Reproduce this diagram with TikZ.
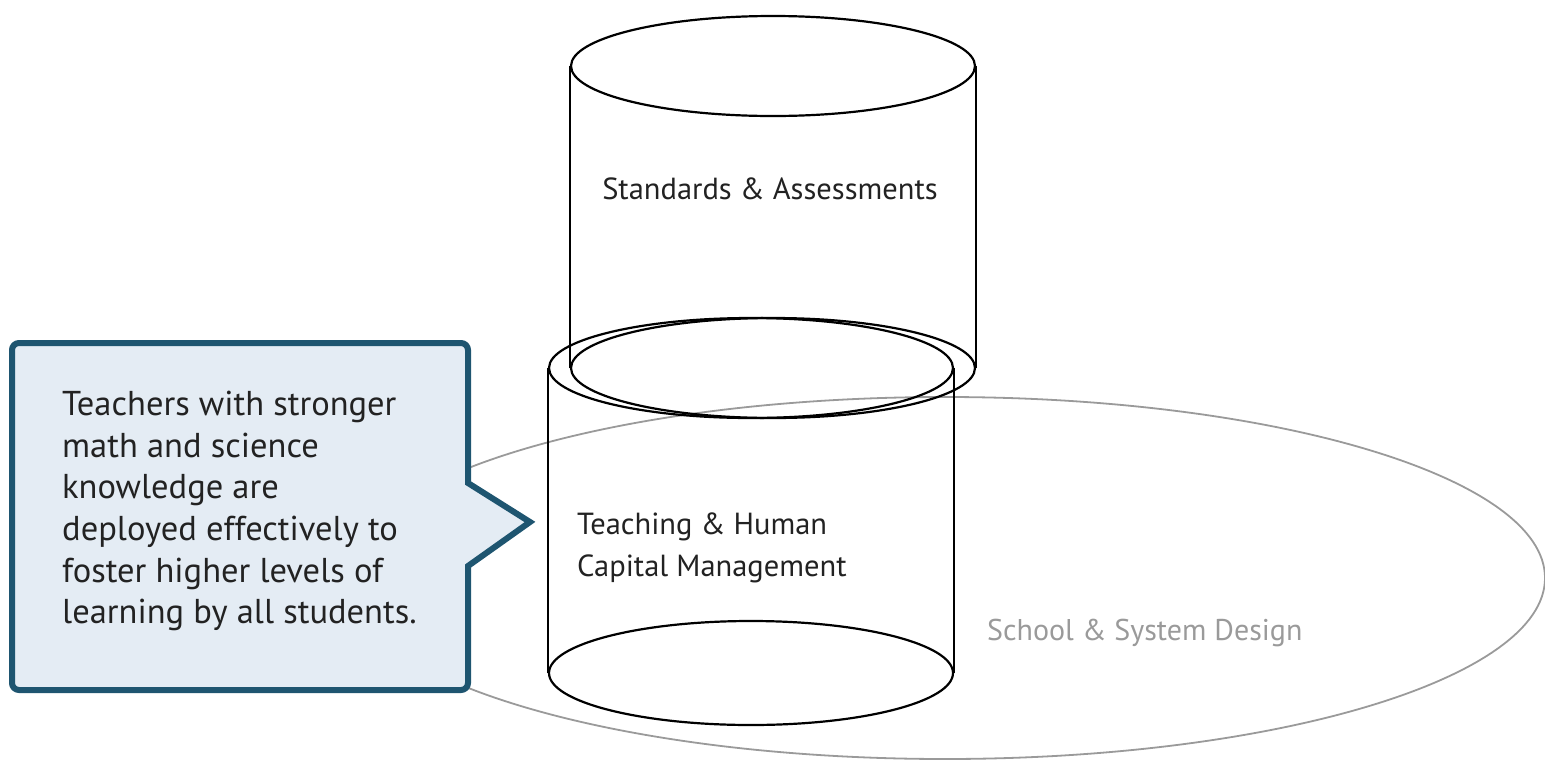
\documentclass[tikz,border=0pt]{standalone}
\usepackage{fontspec}
\setmainfont{PT Sans}
\usetikzlibrary{shapes.geometric}
\definecolor{calloutborder}{HTML}{1E5570}
\definecolor{calloutfill}{HTML}{E4ECF4}
\definecolor{systemgray}{HTML}{9A9A9A}
\definecolor{textdark}{HTML}{222222}
\tikzset{
  cylcap/.style={draw=black, line width=2.2pt, ellipse, minimum width=404pt, minimum height=100pt, inner sep=0pt},
  cylside/.style={draw=black, line width=2.2pt},
  sysring/.style={draw=systemgray, line width=1.8pt, ellipse, minimum width=1200pt, minimum height=362pt, inner sep=0pt},
  txtlabel/.style={text=textdark, inner sep=0pt},
}
\begin{document}
\begin{tikzpicture}[x=1pt,y=-1pt]
\useasboundingbox (0,0) rectangle (1545,761);
% system ellipse
\node[sysring] (sys) at (945,578) {};
\node[txtlabel, text=systemgray, anchor=west, font=\fontsize{30}{36}\selectfont] (syslabel) at (987,633) {School \& System Design};
% callout
\draw[line width=6pt, draw=calloutborder, fill=calloutfill, rounded corners=7pt, line join=miter]
  (12,343) -- (468,343) [sharp corners] -- (468,483) -- (530,522) -- (468,566) [rounded corners=7pt] -- (468,690) -- (12,690) -- cycle;
\node[txtlabel, anchor=north west, align=left, font=\fontsize{34.5}{41.6}\selectfont] (callout) at (62,391)
  {Teachers with stronger\\math and science\\knowledge are\\deployed effectively to\\foster higher levels of\\learning by all students.};
% top cylinder
\node[cylcap] (sa-top) at (773,66) {};
\node[cylcap] (sa-bot) at (773,368) {};
\draw[cylside] (sa-top.west) -- (sa-bot.west);
\draw[cylside] (sa-top.east) -- (sa-bot.east);
\node[txtlabel, font=\fontsize{30.5}{36}\selectfont] (salabel) at (770,189) {Standards \& Assessments};
% bottom cylinder
\node[cylcap] (th-top) at (751,368) {};
\node[cylcap, minimum height=104pt] (th-bot) at (751,673) {};
\draw[cylside] (th-top.west) -- (th-bot.west);
\draw[cylside] (th-top.east) -- (th-bot.east);
\node[txtlabel, anchor=north west, align=left, font=\fontsize{30.5}{42}\selectfont] (thlabel) at (577,513) {Teaching \& Human\\Capital Management};
\end{tikzpicture}
\end{document}
